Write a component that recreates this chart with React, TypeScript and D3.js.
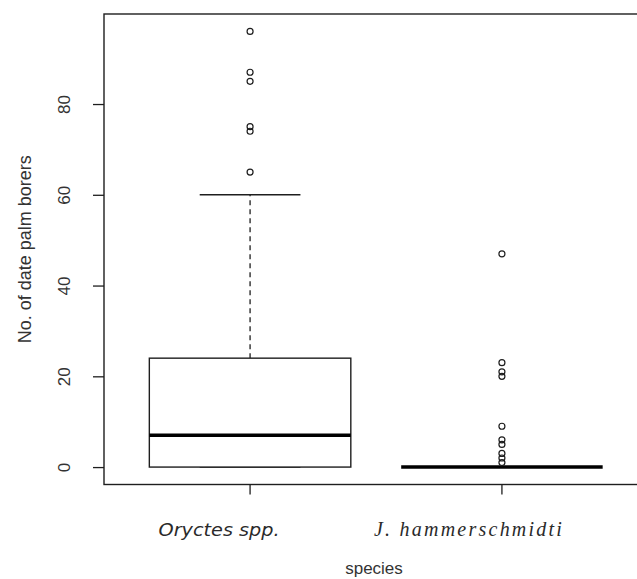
import React, { useEffect, useRef } from "react";
import * as d3 from "d3";

// box statistics per species
const species = ["Oryctes spp.", "J. hammerschmidti"];
const lowerWhisker = [0, 0];
const q1 = [0, 0];
const median = [7, 0];
const q3 = [24, 0];
const upperWhisker = [60, 0];
const outliersOryctes = [96, 87, 85, 75, 74, 65];
const outliersJ = [47, 23, 21, 20, 9, 6, 5, 3, 2, 1];
const yTicks = [0, 20, 40, 60, 80];

const W = 637;
const H = 579;

export default function App() {
  const ref = useRef<SVGSVGElement>(null);

  useEffect(() => {
    const svg = d3.select(ref.current);
    svg.selectAll("*").remove();

    const ink = "#1e1e1e";
    const xScale = d3.scaleLinear().domain([0.42, 2.58]).range([104, 648]);
    const yScale = d3.scaleLinear().domain([-3.84, 99.84]).range([484.5, 14]);
    const half = (xScale(1.4) - xScale(1)); // box half width (boxwex 0.8)

    const outliers = [outliersOryctes, outliersJ];
    const rows = species.map((s, i) => ({
      name: s, pos: i + 1,
      lo: lowerWhisker[i], q1: q1[i], med: median[i], q3: q3[i], hi: upperWhisker[i],
      out: outliers[i],
    }));

    const g = svg.append("g");

    // plot frame
    g.append("rect")
      .attr("x", xScale.range()[0]).attr("y", yScale.range()[1])
      .attr("width", xScale.range()[1] - xScale.range()[0])
      .attr("height", yScale.range()[0] - yScale.range()[1])
      .attr("fill", "none").attr("stroke", ink).attr("stroke-width", 1.4);

    // y axis
    const yAxis = g.append("g").attr("transform", `translate(${xScale.range()[0]},0)`)
      .call(d3.axisLeft(yScale).tickValues(yTicks).tickSize(11).tickFormat(d3.format("d")));
    yAxis.select(".domain").remove();
    yAxis.selectAll(".tick line").attr("stroke", ink).attr("stroke-width", 1.3);
    yAxis.selectAll(".tick text")
      .attr("x", null).attr("dy", null)
      .attr("transform", `translate(-34,0) rotate(-90)`)
      .attr("text-anchor", "middle")
      .attr("fill", "#333")
      .style("font-family", "Liberation Sans, Arial, sans-serif")
      .style("font-size", "17px");

    // x ticks
    g.selectAll(".xtick").data(rows).join("line").attr("class", "xtick")
      .attr("x1", d => xScale(d.pos)).attr("x2", d => xScale(d.pos))
      .attr("y1", yScale.range()[0]).attr("y2", yScale.range()[0] + 10)
      .attr("stroke", ink).attr("stroke-width", 1.3);

    // x tick labels
    g.append("text").attr("x", xScale(1) - 31).attr("y", 536)
      .attr("text-anchor", "middle").attr("fill", "#2a2a2a")
      .style("font-family", "DejaVu Sans, sans-serif").style("font-style", "italic")
      .style("font-size", "18px").attr("textLength", 121).attr("lengthAdjust", "spacingAndGlyphs")
      .text(species[0]);
    g.append("text").attr("x", xScale(2) - 34).attr("y", 536)
      .attr("text-anchor", "middle").attr("fill", "#2a2a2a")
      .style("font-family", "Liberation Serif, serif").style("font-style", "italic")
      .style("font-size", "20px").attr("textLength", 188).attr("lengthAdjust", "spacing")
      .text(species[1]);

    // axis titles
    g.append("text").attr("x", 374).attr("y", 574).attr("text-anchor", "middle")
      .attr("fill", "#333").style("font-family", "Liberation Sans, Arial, sans-serif")
      .style("font-size", "17px").text("species");
    g.append("text").attr("transform", `translate(31,${(yScale.range()[0] + yScale.range()[1]) / 2}) rotate(-90)`)
      .attr("text-anchor", "middle").attr("fill", "#333")
      .style("font-family", "Liberation Sans, Arial, sans-serif")
      .style("font-size", "18px").text("No. of date palm borers");

    // boxes
    const box = g.selectAll(".box").data(rows).join("g").attr("class", "box");
    box.append("line")
      .attr("x1", d => xScale(d.pos)).attr("x2", d => xScale(d.pos))
      .attr("y1", d => yScale(d.q3)).attr("y2", d => yScale(d.hi))
      .attr("stroke", ink).attr("stroke-width", 1.3).attr("stroke-dasharray", "5,4");
    box.append("line")
      .attr("x1", d => xScale(d.pos)).attr("x2", d => xScale(d.pos))
      .attr("y1", d => yScale(d.q1)).attr("y2", d => yScale(d.lo))
      .attr("stroke", ink).attr("stroke-width", 1.3).attr("stroke-dasharray", "5,4");
    box.append("line")
      .attr("x1", d => xScale(d.pos) - half / 2).attr("x2", d => xScale(d.pos) + half / 2)
      .attr("y1", d => yScale(d.hi)).attr("y2", d => yScale(d.hi))
      .attr("stroke", ink).attr("stroke-width", 1.4);
    box.append("line")
      .attr("x1", d => xScale(d.pos) - half / 2).attr("x2", d => xScale(d.pos) + half / 2)
      .attr("y1", d => yScale(d.lo)).attr("y2", d => yScale(d.lo))
      .attr("stroke", ink).attr("stroke-width", 1.4);
    box.append("rect")
      .attr("x", d => xScale(d.pos) - half).attr("width", 2 * half)
      .attr("y", d => yScale(d.q3)).attr("height", d => yScale(d.q1) - yScale(d.q3))
      .attr("fill", "white").attr("stroke", ink).attr("stroke-width", 1.4);
    box.append("line")
      .attr("x1", d => xScale(d.pos) - half).attr("x2", d => xScale(d.pos) + half)
      .attr("y1", d => yScale(d.med)).attr("y2", d => yScale(d.med))
      .attr("stroke", "#000").attr("stroke-width", 3.6);

    // outliers
    box.selectAll("circle").data(d => d.out.map(v => ({ pos: d.pos, v }))).join("circle")
      .attr("cx", d => xScale(d.pos)).attr("cy", d => yScale(d.v)).attr("r", 3)
      .attr("fill", "none").attr("stroke", ink).attr("stroke-width", 1.2);
  }, []);

  return (
    <svg ref={ref} width={W} height={H}
      style={{ position: "absolute", left: 0, top: 0, background: "white" }} />
  );
}
